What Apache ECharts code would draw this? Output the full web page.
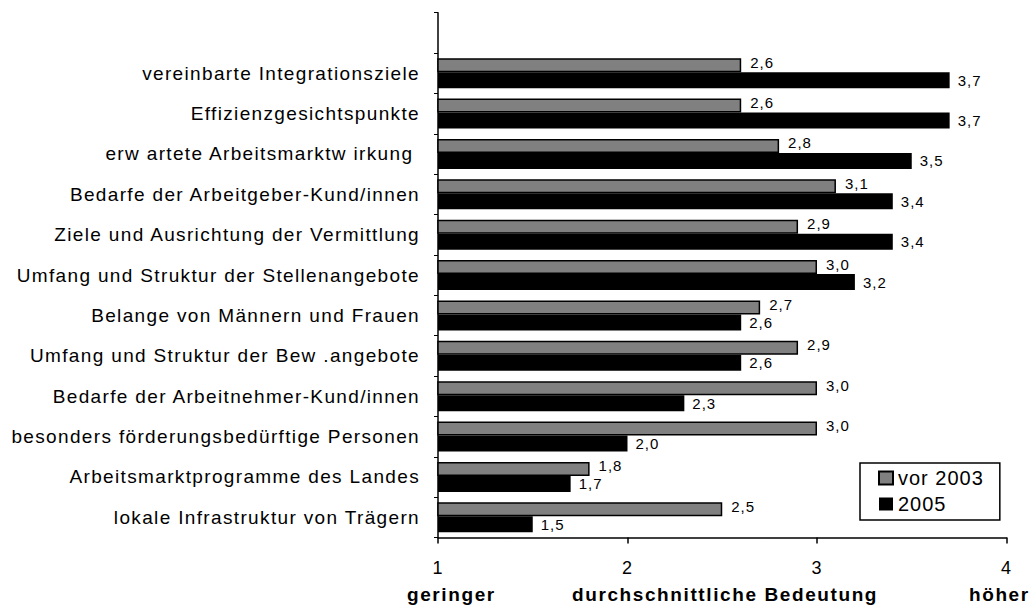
<!DOCTYPE html>
<html>
<head>
<meta charset="utf-8">
<script src="https://cdn.jsdelivr.net/npm/echarts@6/dist/echarts.min.js"></script>
<style>
  html, body { margin: 0; padding: 0; background: #fff; }
  #chart { width: 1031px; height: 607px; }
  /* the source uses loosely spaced Arial */
  #chart text { letter-spacing: 1px; }
  #chart text[style*="19px"] { letter-spacing: 1.35px; }
  #chart text[style*="bold"] { letter-spacing: 1.6px; }
</style>
</head>
<body>
<div id="chart"></div>
<script>
// categories listed bottom to top; the last empty one leaves the gap above the bars
const categories = [
  "lokale Infrastruktur von Trägern",
  "Arbeitsmarktprogramme des Landes",
  "besonders förderungsbedürftige Personen",
  "Bedarfe der Arbeitnehmer-Kund/innen",
  "Umfang und Struktur der Bew .angebote",
  "Belange von Männern und Frauen",
  "Umfang und Struktur der Stellenangebote",
  "Ziele und Ausrichtung der Vermittlung",
  "Bedarfe der Arbeitgeber-Kund/innen",
  "erw artete Arbeitsmarktw irkung ",
  "Effizienzgesichtspunkte",
  "vereinbarte Integrationsziele",
  ""
];
const vor2003 = [2.5, 1.8, 3.0, 3.0, 2.9, 2.7, 3.0, 2.9, 3.1, 2.8, 2.6, 2.6, null];
const jahr2005 = [1.5, 1.7, 2.0, 2.3, 2.6, 2.6, 3.2, 3.4, 3.4, 3.5, 3.7, 3.7, null];
const xTicks = [1, 2, 3, 4];
const scaleNotes = ["geringer", "durchschnittliche Bedeutung", "höher"];

const font = "Liberation Sans, Arial, sans-serif";
const fmt = p => p.value == null ? "" : p.value.toFixed(1).replace(".", ",");

const chart = echarts.init(document.getElementById("chart"), null, { renderer: "svg" });
chart.setOption({
  animation: false,
  textStyle: { fontFamily: font },
  grid: { left: 438, right: 24.5, top: 12.7, bottom: 69.5, containLabel: false },
  legend: {
    data: ["vor 2003", "2005"],
    orient: "vertical",
    left: 860,
    top: 463,
    icon: "rect",
    itemWidth: 14,
    itemHeight: 13,
    itemGap: 6,
    padding: [5, 24, 6, 18],
    borderColor: "#000",
    borderWidth: 1.5,
    borderRadius: 0,
    textStyle: { fontSize: 20, color: "#000", fontFamily: font }
  },
  xAxis: {
    type: "value",
    min: xTicks[0],
    max: xTicks[xTicks.length - 1],
    interval: 1,
    axisLine: { show: true, lineStyle: { color: "#000", width: 1.5 } },
    axisTick: { show: true, length: 6, lineStyle: { color: "#000", width: 1.5 } },
    splitLine: { show: false },
    axisLabel: { color: "#000", fontSize: 18, margin: 21 }
  },
  yAxis: {
    type: "category",
    data: categories,
    axisLine: { lineStyle: { color: "#000", width: 1.5 } },
    axisTick: { show: true, length: 4, lineStyle: { color: "#000" } },
    axisLabel: { color: "#000", fontSize: 19, margin: 18 }
  },
  series: [
    {
      name: "vor 2003",
      type: "bar",
      data: vor2003,
      barWidth: 14,
      barGap: "0%",
      itemStyle: { color: "#808080", borderColor: "#000", borderWidth: 1.5 },
      label: { show: true, position: "right", distance: 9, offset: [0, -3], color: "#000", fontSize: 15, formatter: fmt }
    },
    {
      name: "2005",
      type: "bar",
      data: jahr2005,
      barWidth: 16,
      barGap: "0%",
      itemStyle: { color: "#000" },
      label: { show: true, position: "right", distance: 8, color: "#000", fontSize: 15, formatter: fmt }
    }
  ],
  graphic: [
    { type: "text", left: 407, top: 585, style: { text: scaleNotes[0], font: "bold 19px " + font, fill: "#000" } },
    { type: "text", left: 572, top: 585, style: { text: scaleNotes[1], font: "bold 19px " + font, fill: "#000" } },
    { type: "text", left: 969, top: 585, style: { text: scaleNotes[2], font: "bold 19px " + font, fill: "#000" } }
  ]
});
</script>
</body>
</html>
